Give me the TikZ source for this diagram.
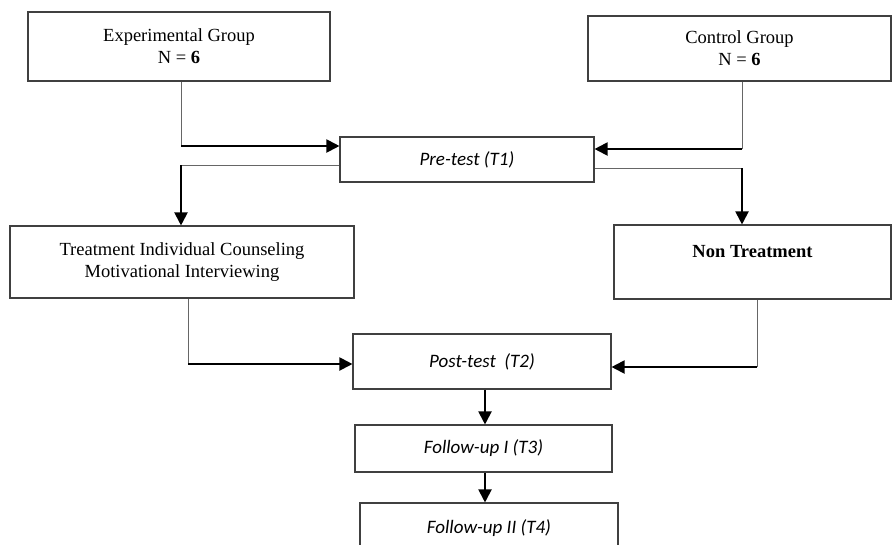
\documentclass[tikz,border=0pt]{standalone}
\usepackage{fontspec}
\setmainfont{Liberation Serif}
\newfontfamily\testfont{Carlito}
\usetikzlibrary{arrows.meta}
\begin{document}
\begin{tikzpicture}[x=1pt,y=-1pt,
		box/.style={draw=black!75,line width=1.1pt,align=center,inner sep=0pt,font=\fontsize{18.5}{22}\selectfont},
		testbox/.style={box,font=\fontsize{19}{22}\selectfont\testfont\itshape},
		feed/.style={draw=black!60,line width=1pt},
		flow/.style={draw=black,line width=2pt,-{Triangle[length=13pt,width=13pt]}}]
		\useasboundingbox (0,0) rectangle (893,544);
		% groups
		\node[box,minimum width=302pt,minimum height=69pt] (exp) at (179,46.5) {Experimental Group\\ N = \textbf{6}};
		\node[box,minimum width=303pt,minimum height=65pt] (ctrl) at (739.5,48.5) {Control Group\\ N = \textbf{6}};
		\node[testbox,minimum width=254pt,minimum height=45pt] (pre) at (467,159.5) {Pre-test (T1)};
		\node[box,minimum width=344pt,minimum height=72pt] (treat) at (182,262) {Treatment Individual Counseling\\ Motivational Interviewing};
		\node[box,minimum width=277pt,minimum height=74pt] (non) at (752.5,262) {\textbf{Non Treatment}\\ ~};
		\node[testbox,minimum width=258pt,minimum height=55pt] (post) at (482,361.5) {Post-test~ (T2)};
		\node[testbox,minimum width=257pt,minimum height=47pt] (fu1) at (483.5,448.5) {Follow-up I (T3)};
		\node[testbox,minimum width=258pt,minimum height=50pt] (fu2) at (489,528) {Follow-up II (T4)};
		% bends
		\coordinate (e1) at ([xshift=2pt]exp.south |- 0,146);
		\coordinate (c1) at ([xshift=2.5pt]ctrl.south |- 0,149);
		\coordinate (p1) at (e1 |- 0,165);
		\coordinate (p2) at (c1 |- 0,168);
		\coordinate (t1) at ([xshift=6pt]treat.south |- 0,364);
		\coordinate (n1) at ([xshift=4.5pt]non.south |- 0,367);
		% pre-test
		\draw[feed] ([xshift=2pt]exp.south) -- (e1);
		\draw[flow] (e1) -- (pre.west |- e1);
		\draw[feed] ([xshift=2.5pt]ctrl.south) -- (c1);
		\draw[flow] (c1) -- (pre.east |- c1);
		\draw[feed] (pre.west |- p1) -- (p1);
		\draw[flow] (p1) -- (p1 |- treat.north);
		\draw[feed] (pre.east |- p2) -- (p2);
		\draw[flow] (p2) -- (p2 |- non.north);
		% post-test
		\draw[feed] ([xshift=6pt]treat.south) -- (t1);
		\draw[flow] (t1) -- (post.west |- t1);
		\draw[feed] ([xshift=4.5pt]non.south) -- (n1);
		\draw[flow] (n1) -- (post.east |- n1);
		\draw[flow] ([xshift=3pt]post.south) -- ([xshift=3pt]post.south |- fu1.north);
		\draw[flow] ([xshift=1.5pt]fu1.south) -- ([xshift=1.5pt]fu1.south |- fu2.north);
	\end{tikzpicture}
\end{document}
